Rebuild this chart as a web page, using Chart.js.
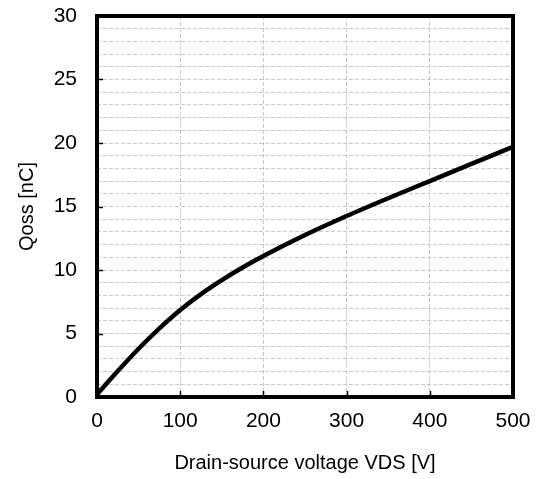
<!DOCTYPE html>
<html>
<head>
<meta charset="utf-8">
<script src="https://cdn.jsdelivr.net/npm/chart.js@4/dist/chart.umd.min.js"></script>
<style>
  html, body { margin: 0; padding: 0; background: #fff; }
  #wrap { width: 544px; height: 479px; position: relative; }
</style>
</head>
<body>
<div id="wrap"><canvas id="c" width="544" height="479"></canvas></div>
<script>
// Qoss vs VDS
const vds  = [0, 10, 25, 50, 75, 100, 125, 150, 175, 200, 250, 300, 350, 400, 450, 500]
const qoss = [0.2, 0.95, 2.05, 3.8, 5.4, 6.85, 8.1, 9.2, 10.2, 11.1, 12.75, 14.25, 15.65, 17.0, 18.35, 19.7]

const xTicks = [0, 100, 200, 300, 400, 500]
const yTicks = [0, 5, 10, 15, 20, 25, 30]

const font = 'Liberation Sans, Arial, sans-serif'

// thick frame + inward tick marks
const framePlugin = {
  id: 'frame',
  afterDraw(chart) {
    const { ctx, chartArea: a, scales: { x, y } } = chart
    ctx.save()
    ctx.strokeStyle = '#000'
    ctx.lineWidth = 1.5
    yTicks.forEach(v => {
      const py = Math.round(y.getPixelForValue(v)) + 0.5
      ctx.beginPath(); ctx.moveTo(a.left, py); ctx.lineTo(a.left + 6, py); ctx.stroke()
    })
    xTicks.forEach(v => {
      const px = Math.round(x.getPixelForValue(v)) + 0.5
      ctx.beginPath(); ctx.moveTo(px, a.bottom); ctx.lineTo(px, a.bottom - 6); ctx.stroke()
    })
    ctx.lineWidth = 4
    ctx.strokeRect(a.left, a.top, a.right - a.left, a.bottom - a.top)
    ctx.restore()
  }
}

new Chart(document.getElementById('c'), {
  type: 'scatter',
  data: {
    datasets: [{
      data: vds.map((v, i) => ({ x: v, y: qoss[i] })),
      showLine: true,
      borderColor: '#000',
      borderWidth: 4.5,
      pointRadius: 0,
      cubicInterpolationMode: 'monotone',
      fill: false,
    }],
  },
  options: {
    responsive: false,
    animation: false,
    devicePixelRatio: 1,
    layout: { padding: { left: 0, top: 16, right: 31, bottom: 0 } },
    plugins: { legend: { display: false }, tooltip: { enabled: false } },
    scales: {
      x: {
        type: 'linear',
        min: 0, max: 500,
        afterFit: s => { s.height = 82; s.paddingLeft = 0; s.paddingRight = 0 },
        ticks: { stepSize: 100, color: '#000', font: { family: font, size: 21 }, padding: 12, maxRotation: 0 },
        grid: { color: '#c8c8c8', lineWidth: 1, drawTicks: false },
        border: { display: false, dash: [4, 2] },
        title: { display: true, text: 'Drain-source voltage VDS [V]', color: '#000', font: { family: font, size: 20 }, padding: { top: 0, bottom: 4 } },
      },
      y: {
        min: 0, max: 30,
        afterFit: s => { s.width = 97; s.paddingTop = 0; s.paddingBottom = 0 },
        ticks: {
          stepSize: 1, autoSkip: false, color: '#000', font: { family: font, size: 21 }, padding: 20,
          callback: v => (v % 5 === 0 ? v : ''),
        },
        grid: { color: '#c8c8c8', lineWidth: 1, drawTicks: false },
        border: { display: false, dash: [4, 2] },
        title: { display: true, text: 'Qoss [nC]', color: '#000', font: { family: font, size: 20 }, padding: { top: 15, bottom: 0 } },
      },
    },
  },
  plugins: [framePlugin],
})
</script>
</body>
</html>
